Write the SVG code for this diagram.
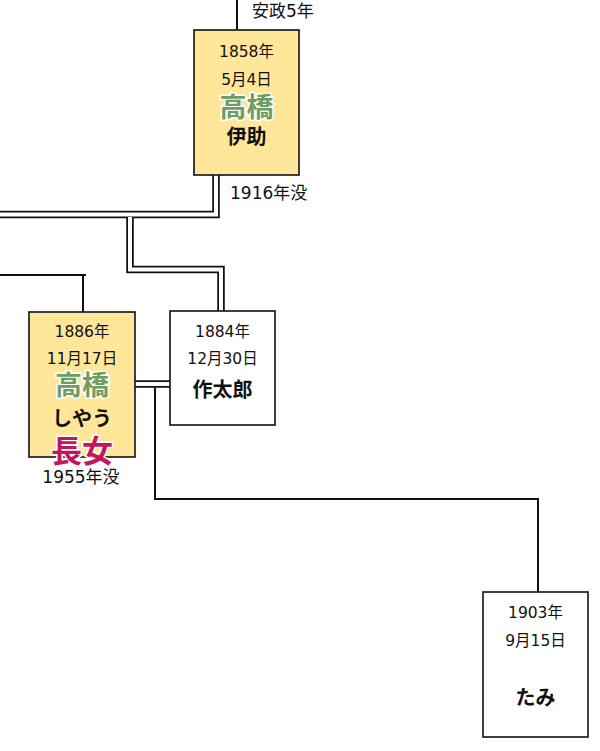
<svg xmlns="http://www.w3.org/2000/svg" width="600" height="751" viewBox="0 0 600 751">
<style>
  text { font-family: "DejaVu Sans", "Noto Sans CJK JP", sans-serif; text-anchor: middle; fill: #111; }
  .d { font-size: 15.5px; }
  .lbl { font-size: 17px; text-anchor: start; }
  .nm { font-size: 20px; font-weight: bold; font-family: "Noto Sans CJK JP", sans-serif; }
  .sur { font-size: 27px; font-weight: bold; font-family: "Noto Sans CJK JP", sans-serif; fill: #6E9E5E; stroke: #fff; stroke-width: 3px; paint-order: stroke; }
  .el { font-size: 31px; font-weight: bold; font-family: "Noto Sans CJK JP", sans-serif; fill: #C2185B; stroke: #fff; stroke-width: 3px; paint-order: stroke; }
  .box { stroke: #111; stroke-width: 1.6; }
  .gold { fill: #FFE699; }
  .white { fill: #fff; }
  .dbl-o { fill: none; stroke: #111; stroke-width: 7.5; }
  .dbl-i { fill: none; stroke: #fff; stroke-width: 4; }
  .sgl { fill: none; stroke: #111; stroke-width: 2; }
</style>
<rect width="600" height="751" fill="#fff"/>
<g id="connectors">
  <path class="sgl" d="M237,0 V30"/>
  <path class="dbl-o" d="M0,214.5 H216 V175"/>
  <path class="dbl-i" d="M0,214.5 H216 V175"/>
  <path class="dbl-o" d="M130,217 V269.5 H221 V311"/>
  <path class="dbl-i" d="M130,217 V269.5 H221 V311"/>
  <path class="sgl" d="M0,275 H86 M83,275 V312"/>
  <path class="dbl-o" d="M135,384 H170"/>
  <path class="dbl-i" d="M135,384 H170"/>
  <path class="sgl" d="M155,387.5 V499 H538 V592"/>
</g>
<g id="isuke">
  <rect class="box gold" x="194" y="30" width="105" height="145"/>
  <text class="d" x="246.5" y="57">1858年</text>
  <text class="d" x="246.5" y="85">5月4日</text>
  <text class="sur" x="246.5" y="117">高橋</text>
  <text class="nm" x="246.5" y="144">伊助</text>
</g>
<text class="lbl" x="252" y="17">安政5年</text>
<text class="lbl" x="230" y="199">1916年没</text>
<g id="shiyau">
  <rect class="box gold" x="29" y="312" width="106" height="145"/>
  <text class="d" x="82" y="337">1886年</text>
  <text class="d" x="82" y="364">11月17日</text>
  <text class="sur" x="82" y="395">高橋</text>
  <text class="nm" x="82" y="426">しやう</text>
  <text class="el" x="82" y="462">長女</text>
</g>
<text class="lbl" x="81" y="483" style="text-anchor:middle">1955年没</text>
<g id="sakutaro">
  <rect class="box white" x="170" y="311" width="105" height="114"/>
  <text class="d" x="222.5" y="337">1884年</text>
  <text class="d" x="222.5" y="364">12月30日</text>
  <text class="nm" x="222.5" y="397">作太郎</text>
</g>
<g id="tami">
  <rect class="box white" x="483" y="592" width="105" height="145"/>
  <text class="d" x="535.5" y="618">1903年</text>
  <text class="d" x="535.5" y="646">9月15日</text>
  <text class="nm" x="535.5" y="705">たみ</text>
</g>
</svg>
